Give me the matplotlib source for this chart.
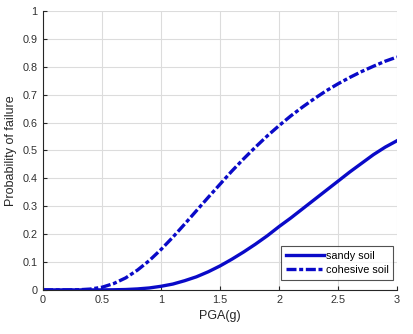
import matplotlib
matplotlib.use("Agg")
import matplotlib.pyplot as plt

pga = [0.0, 0.1, 0.2, 0.3, 0.4, 0.5, 0.6, 0.7, 0.8, 0.9, 1.0,
       1.1, 1.2, 1.3, 1.4, 1.5, 1.6, 1.7, 1.8, 1.9, 2.0,
       2.1, 2.2, 2.3, 2.4, 2.5, 2.6, 2.7, 2.8, 2.9, 3.0]
sandy = [0.0, 0.0, 0.0, 0.0, 0.0, 0.0001, 0.0005, 0.0014, 0.0035, 0.007, 0.013,
         0.021, 0.033, 0.047, 0.065, 0.086, 0.110, 0.136, 0.164, 0.194, 0.227,
         0.258, 0.291, 0.324, 0.357, 0.390, 0.423, 0.454, 0.485, 0.512, 0.535]
cohesive = [0.0, 0.0, 0.0, 0.0005, 0.003, 0.0096, 0.023, 0.043, 0.071, 0.105, 0.145,
            0.189, 0.236, 0.284, 0.332, 0.379, 0.426, 0.470, 0.512, 0.552, 0.589,
            0.624, 0.656, 0.686, 0.714, 0.739, 0.762, 0.783, 0.802, 0.820, 0.835]
xticks = [0, 0.5, 1, 1.5, 2, 2.5, 3]
xticklabels = ["0", "0.5", "1", "1.5", "2", "2.5", "3"]
yticks = [0, 0.1, 0.2, 0.3, 0.4, 0.5, 0.6, 0.7, 0.8, 0.9, 1]
yticklabels = ["0", "0.1", "0.2", "0.3", "0.4", "0.5", "0.6", "0.7", "0.8", "0.9", "1"]

plt.rcParams['font.family'] = ['Liberation Sans', 'DejaVu Sans']

fig = plt.figure(figsize=(4.14, 3.34), dpi=100)
ax = fig.add_axes([0.104, 0.132, 0.855, 0.835])
color = '#0a0ac8'
ax.plot(pga, sandy, '-', color=color, lw=2.4, label='sandy soil')
ax.plot(pga, cohesive, color=color, lw=2.4, dashes=(3.0, 0.8, 1.2, 0.8), label='cohesive soil')
ax.set_xlim(0, 3)
ax.set_ylim(0, 1)
ax.set_xticks(xticks)
ax.set_xticklabels(xticklabels)
ax.set_yticks(yticks)
ax.set_yticklabels(yticklabels)
ax.grid(True, color='#dcdcdc', lw=0.8)
ax.set_axisbelow(True)
for s in ['top', 'right']:
    ax.spines[s].set_visible(False)
for s in ['left', 'bottom']:
    ax.spines[s].set_color('#262626')
    ax.spines[s].set_linewidth(0.8)
ax.tick_params(direction='in', length=3, width=0.8, labelsize=7.8, colors='#262626',
               labelcolor='#303030', pad=4)
ax.set_xlabel('PGA(g)', fontsize=9, color='#262626', labelpad=3)
ax.set_ylabel('Probability of failure', fontsize=9, color='#262626', labelpad=4)
leg = ax.legend(loc='lower right', fontsize=7.8, frameon=True, fancybox=False,
                edgecolor='#262626', handlelength=3.5, handletextpad=0.2,
                borderpad=0.45, labelspacing=0.4, borderaxespad=0.0,
                bbox_to_anchor=(0.99, 0.035))
leg.get_frame().set_linewidth(0.8)
fig.savefig('out.png', dpi=100)
